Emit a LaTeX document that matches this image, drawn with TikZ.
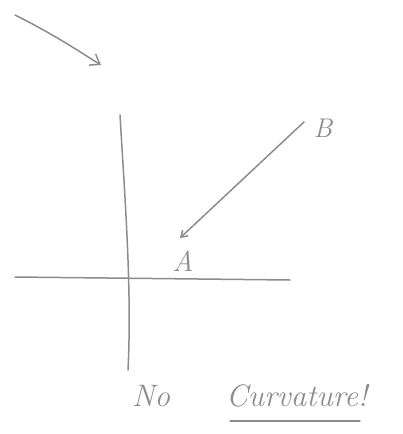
\documentclass[tikz,border=0pt]{standalone}
\usetikzlibrary{arrows.meta}
\definecolor{pencil}{gray}{0.55}
\begin{document}
\begin{tikzpicture}[x=1pt,y=-1pt,
  stroke/.style={draw=pencil,line width=1.5pt,line cap=round},
  lbl/.style={text=pencil,inner sep=0pt,font=\itshape}]
\useasboundingbox (0,0) rectangle (403,434);
% top-left arrow
\coordinate (t1) at (15,15);
\coordinate (t2) at (101,65);
\draw[stroke,-{Straight Barb[length=9pt,width=13pt]}] (t1) .. controls (55,35) and (80,52) .. (t2);
% axes
\coordinate (v1) at (120,115);
\coordinate (v2) at (128,370);
\draw[stroke] (v1) .. controls (125,200) and (132,290) .. (v2);
\coordinate (h1) at (15,277);
\coordinate (h2) at (290,280);
\draw[stroke] (h1) -- (h2);
% labels
\node[lbl,font=\itshape\fontsize{27}{30}\selectfont] (B) at (323,128) {B};
\node[lbl,font=\itshape\fontsize{29}{32}\selectfont] (A) at (183,261) {A};
\coordinate (b1) at (304,122);
\coordinate (a1) at (180,238);
\draw[stroke,-{Straight Barb[length=6pt,width=8pt]}] (b1) -- (a1);
% caption
\node[lbl,font=\itshape\fontsize{31}{35}\selectfont,anchor=base west] (no) at (132,406) {No};
\node[lbl,font=\itshape\fontsize{31}{35}\selectfont,anchor=base west] (cv) at (226,406) {Curvature!};
\coordinate (u1) at (230,421);
\coordinate (u2) at (360,421);
\draw[stroke,line width=1.2pt] (u1) -- (u2);
\end{tikzpicture}
\end{document}
